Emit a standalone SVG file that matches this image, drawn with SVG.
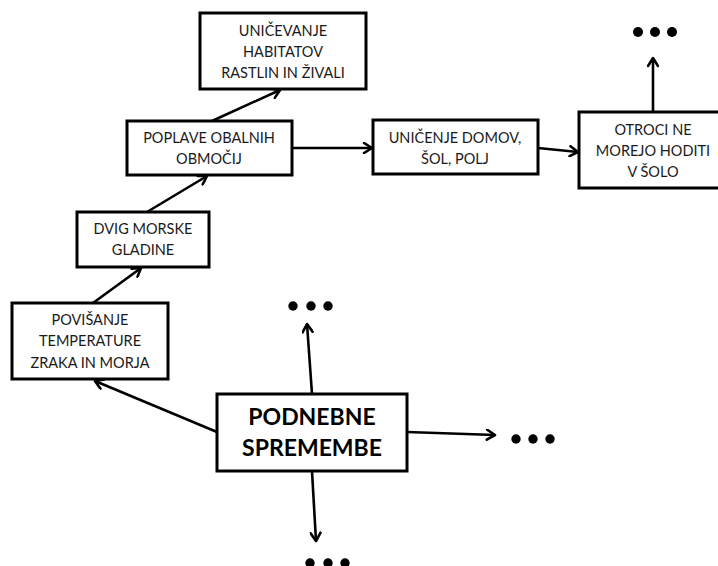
<svg xmlns="http://www.w3.org/2000/svg" width="718" height="566" viewBox="0 0 718 566">
<defs>
<marker id="ah" viewBox="0 0 12 12" refX="10" refY="6" markerWidth="12" markerHeight="12" markerUnits="userSpaceOnUse" orient="auto">
<polyline points="2,1 10,6 2,11" fill="none" stroke="#000" stroke-width="2.6" stroke-linecap="round" stroke-linejoin="round"/>
</marker>
</defs>
<style>
.box{fill:#fff;stroke:#000;stroke-width:3}
.t{font-family:Lato,"Open Sans","Liberation Sans",sans-serif;font-size:14.5px;fill:#1a1a1a;text-anchor:middle}
.b{font-family:Lato,"Open Sans","Liberation Sans",sans-serif;font-size:23px;font-weight:bold;fill:#000;text-anchor:middle}
.c line{stroke:#000;stroke-width:2.6;fill:none;marker-end:url(#ah)}
.d{fill:#000}
</style>
<rect width="718" height="566" fill="#fff"/>
<g class="c" id="connectors">
<line x1="292" y1="148" x2="372" y2="148"/>
<line x1="538" y1="148" x2="578" y2="152"/>
<line x1="653" y1="112" x2="653" y2="58"/>
<line x1="212" y1="121" x2="280" y2="90"/>
<line x1="147" y1="212" x2="207" y2="176"/>
<line x1="93" y1="303" x2="141" y2="268"/>
<line x1="217" y1="432" x2="95" y2="381"/>
<line x1="312" y1="394" x2="307" y2="324"/>
<line x1="407" y1="432" x2="495" y2="435"/>
<line x1="312" y1="471" x2="316" y2="541"/>
</g>
<g id="n1"><rect class="box" x="200" y="13" width="166" height="76"/>
<text class="t" x="283" y="36">UNIČEVANJE</text><text class="t" x="283" y="57">HABITATOV</text><text class="t" x="283" y="78">RASTLIN IN ŽIVALI</text></g>
<g id="n2"><rect class="box" x="127" y="121" width="165" height="54"/>
<text class="t" x="209" y="143">POPLAVE OBALNIH</text><text class="t" x="209" y="164">OBMOČIJ</text></g>
<g id="n3"><rect class="box" x="373" y="120" width="165" height="54"/>
<text class="t" x="455" y="143">UNIČENJE DOMOV,</text><text class="t" x="455" y="164">ŠOL, POLJ</text></g>
<g id="n4"><rect class="box" x="579" y="112" width="145" height="76"/>
<text class="t" x="653" y="135">OTROCI NE</text><text class="t" x="653" y="156">MOREJO HODITI</text><text class="t" x="653" y="177">V ŠOLO</text></g>
<g id="n5"><rect class="box" x="77" y="212" width="132" height="55"/>
<text class="t" x="143" y="234">DVIG MORSKE</text><text class="t" x="143" y="255">GLADINE</text></g>
<g id="n6"><rect class="box" x="12" y="303" width="156" height="76"/>
<text class="t" x="90" y="325">POVIŠANJE</text><text class="t" x="90" y="346">TEMPERATURE</text><text class="t" x="90" y="368">ZRAKA IN MORJA</text></g>
<g id="n7"><rect class="box" x="217" y="394" width="190" height="77"/>
<text class="b" x="312" y="425">PODNEBNE</text><text class="b" x="312" y="456">SPREMEMBE</text></g>
<g id="dots1"><circle class="d" cx="638" cy="32" r="5"/><circle class="d" cx="655" cy="32" r="5"/><circle class="d" cx="672" cy="32" r="5"/></g>
<g id="dots2"><circle class="d" cx="293" cy="306" r="4.7"/><circle class="d" cx="311" cy="306" r="4.7"/><circle class="d" cx="328" cy="306" r="4.7"/></g>
<g id="dots3"><circle class="d" cx="516" cy="439" r="4.7"/><circle class="d" cx="533" cy="439" r="4.7"/><circle class="d" cx="550" cy="439" r="4.7"/></g>
<g id="dots4"><circle class="d" cx="310" cy="563" r="4.7"/><circle class="d" cx="328" cy="563" r="4.7"/><circle class="d" cx="345" cy="563" r="4.7"/></g>
</svg>
